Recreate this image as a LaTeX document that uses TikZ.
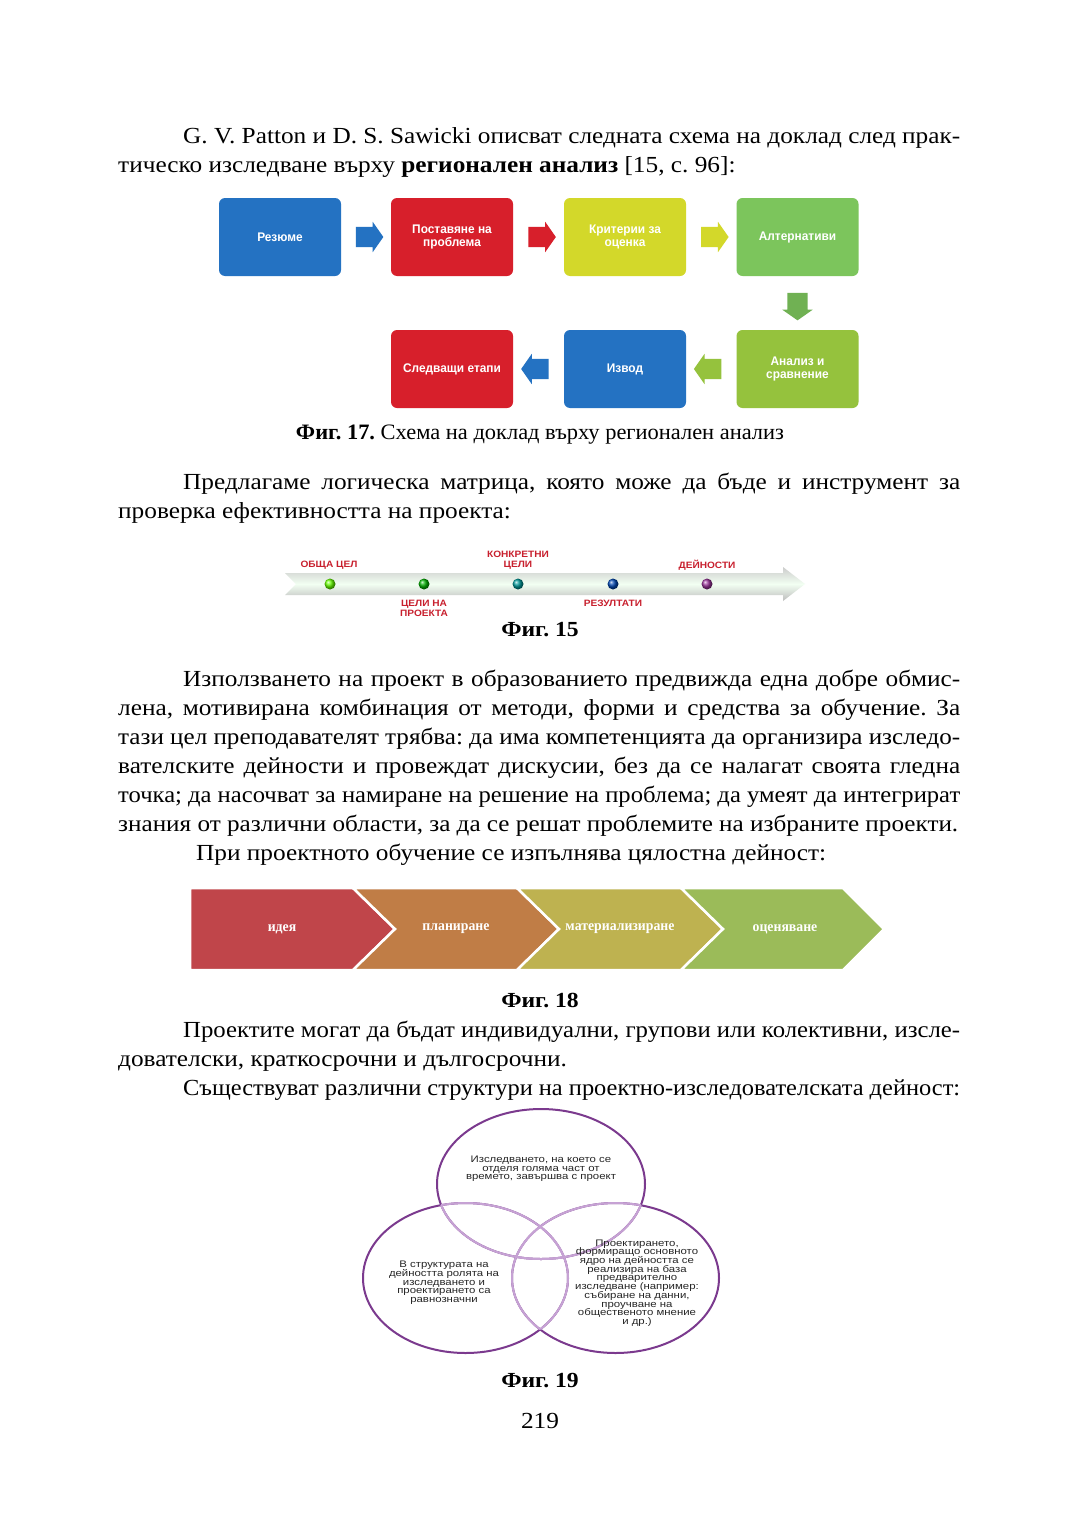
\documentclass[tikz,border=0pt]{standalone}
\usepackage{fontspec}
\usepackage{graphicx}
\setmainfont{Liberation Serif}
\newfontfamily\bodyfont[FakeStretch=1.1]{Liberation Serif}
\newfontfamily\capfont[FakeStretch=1.02]{Liberation Serif}
\newfontfamily\chfont[FakeStretch=0.95]{Liberation Serif}
\newfontfamily\boxfont[FakeStretch=0.95]{Liberation Sans}
\newfontfamily\lblfont[FakeStretch=1.1]{Liberation Sans}
\newfontfamily\vennfont[FakeStretch=1.2]{Liberation Sans}
\newcommand\vennsetup{\fontsize{9.5}{8.7}\vennfont\lineskiplimit=-6pt\relax}
\frenchspacing
\usetikzlibrary{shapes.arrows,calc}
\definecolor{cblue}{HTML}{2472C2}
\definecolor{cred}{HTML}{D71F2B}
\definecolor{cyel}{HTML}{D3D82A}
\definecolor{cgreen}{HTML}{7CC55C}
\definecolor{clime}{HTML}{95C23D}
\definecolor{lblred}{HTML}{C8202E}
\definecolor{ch1}{HTML}{C0454A}
\definecolor{ch2}{HTML}{C07D46}
\definecolor{ch3}{HTML}{BEB250}
\definecolor{ch4}{HTML}{9BBB59}
\definecolor{vdark}{HTML}{7B3A8E}
\definecolor{vlight}{HTML}{C6A2D4}
\newcommand\jline[2]{\setbox0\hbox{#2}\ifdim\wd0>#1pt\relax\resizebox{#1pt}{\height}{\box0}\else\makebox[#1pt][s]{\unhbox0}\fi}
\tikzset{
  txt/.style={anchor=base west, inner sep=0pt, font=\fontsize{23}{28}\bodyfont},
  figcap/.style={anchor=base, inner sep=0pt, font=\fontsize{21.5}{26}\bodyfont\bfseries},
  fbox/.style={rounded corners=6pt, minimum width=122pt, minimum height=78pt, inner sep=2pt, text=white, font=\fontsize{12.5}{13}\boxfont\bfseries, align=center},
  farrow/.style={single arrow, minimum height=27pt, inner sep=10pt, single arrow head extend=5pt, single arrow tip angle=110, draw=none},
  tlabel/.style={text=lblred, font=\fontsize{9.2}{10}\lblfont\bfseries, align=center, inner sep=0pt},
  tdot/.style={circle, minimum size=11pt, inner sep=0pt},
  chtext/.style={text=white, font=\fontsize{14.5}{15}\chfont\bfseries, inner sep=0pt},
  venntext/.style={font=\vennsetup, align=center, inner sep=0pt, text=black!85},
}
\begin{document}
\begin{tikzpicture}[x=1pt,y=-1pt]
\useasboundingbox[fill=white] (0,0) rectangle (1080,1536);

% paragraph 1
\node[txt] (p1a) at (183,143) {\jline{777}{G. V. Patton и D. S. Sawicki описват следната схема на доклад след прак-}};
\node[txt] (p1b) at (118,172) {тическо изследване върху \textbf{регионален анализ} [15, с. 96]:};

% figure 17
\node[fbox, fill=cblue] (b1) at (280,237) {Резюме};
\node[fbox, fill=cred] (b2) at (452,237) {Поставяне на\\проблема};
\node[fbox, fill=cyel] (b3) at (625,237) {Критерии за\\оценка};
\node[fbox, fill=cgreen] (b4) at (797.5,237) {Алтернативи};
\node[fbox, fill=clime] (b5) at (797.5,369) {Анализ и\\сравнение};
\node[fbox, fill=cblue] (b6) at (625,369) {Извод};
\node[fbox, fill=cred] (b7) at (452,369) {Следващи етапи};
\node[farrow, fill=cblue] (a1) at ($(b1.east)!0.5!(b2.west)$) {};
\node[farrow, fill=cred] (a2) at ($(b2.east)!0.5!(b3.west)$) {};
\node[farrow, fill=cyel] (a3) at ($(b3.east)!0.5!(b4.west)$) {};
\node[farrow, fill=cgreen!90!black, shape border rotate=270] (a4) at ($(b4.south)!0.5!(b5.north)$) {};
\node[farrow, fill=clime, shape border rotate=180] (a5) at ($(b5.west)!0.5!(b6.east)$) {};
\node[farrow, fill=cblue, shape border rotate=180] (a6) at ($(b6.west)!0.5!(b7.east)$) {};
\node[anchor=base, inner sep=0pt, font=\fontsize{22}{26}\capfont] (c17) at (540,439) {\textbf{Фиг. 17.} Схема на доклад върху регионален анализ};

% paragraph 2
\node[txt] (p2a) at (183,489) {\jline{777}{Предлагаме логическа матрица, която може да бъде и инструмент за}};
\node[txt] (p2b) at (118,518) {проверка ефективността на проекта:};

% figure 15
\shade[top color=black!20, bottom color=black!26, middle color=green!5!white]
  (285,573) -- (783,573) -- (783,567) -- (805,584) -- (783,601) -- (783,595) -- (285,595) -- (296,584) -- cycle;
\node[tdot, ball color=green!60!yellow] (d1) at (330,584) {};
\node[tdot, ball color=green!70!black] (d2) at (424,584) {};
\node[tdot, ball color=teal!80!cyan] (d3) at (518,584) {};
\node[tdot, ball color=blue!60!cyan!70!black] (d4) at (613,584) {};
\node[tdot, ball color=violet!80] (d5) at (707,584) {};
\node[tlabel] (l1) at (329,565) {ОБЩА ЦЕЛ};
\node[tlabel] (l2) at (424,608) {ЦЕЛИ НА\\ПРОЕКТА};
\node[tlabel] (l3) at (518,560) {КОНКРЕТНИ\\ЦЕЛИ};
\node[tlabel] (l4) at (613,603) {РЕЗУЛТАТИ};
\node[tlabel] (l5) at (707,565) {ДЕЙНОСТИ};
\node[figcap] (c15) at (540,636) {Фиг. 15};

% paragraph 3
\node[txt] (p3a) at (183,686) {\jline{777}{Използването на  проект в образованието  предвижда една добре обмис-}};
\node[txt] (p3b) at (118,715) {\jline{842}{лена, мотивирана комбинация от методи, форми и средства за обучение. За}};
\node[txt] (p3c) at (118,744) {\jline{842}{тази цел преподавателят трябва: да има компетенцията да организира изследо-}};
\node[txt] (p3d) at (118,773) {\jline{842}{вателските дейности и провеждат дискусии, без да се налагат своята гледна}};
\node[txt] (p3e) at (118,802) {\jline{842}{точка;  да  насочват за намиране на решение на проблема; да умеят да интегрират}};
\node[txt] (p3f) at (118,831) {\jline{840}{знания от различни области, за да се решат проблемите на избраните проекти.}};
\node[txt] (p3g) at (196,860) {При проектното обучение се изпълнява цялостна дейност:};

% figure 18
\begin{scope}[draw=white, line width=2.5pt, line join=miter]
\filldraw[fill=ch1] (190,888) -- (353,888) -- (395,929) -- (353,970) -- (190,970) -- cycle;
\filldraw[fill=ch2] (353,888) -- (517,888) -- (559,929) -- (517,970) -- (353,970) -- (395,929) -- cycle;
\filldraw[fill=ch3] (517,888) -- (681,888) -- (723,929) -- (681,970) -- (517,970) -- (559,929) -- cycle;
\filldraw[fill=ch4] (681,888) -- (843,888) -- (884,929) -- (843,970) -- (681,970) -- (723,929) -- cycle;
\end{scope}
\node[chtext] (t1) at (282,929) {идея};
\node[chtext] (t2) at (456,929) {планиране};
\node[chtext] (t3) at (620,929) {материализиране};
\node[chtext] (t4) at (785,929) {оценяване};
\node[figcap] (c18) at (540,1007) {Фиг. 18};

% paragraph 4
\node[txt] (p4a) at (183,1037) {\jline{777}{Проектите могат да бъдат индивидуални, групови или колективни, изсле-}};
\node[txt] (p4b) at (118,1066) {дователски, краткосрочни и дългосрочни.};
\node[txt] (p4c) at (183,1095) {\jline{777}{Съществуват различни структури на проектно-изследователската дейност:}};

% figure 19
\def\ea{(541,1184) ellipse [x radius=104, y radius=75]}
\def\eb{(465.5,1278) ellipse [x radius=102.5, y radius=75]}
\def\ec{(615.5,1278) ellipse [x radius=103.5, y radius=75]}
\draw[vdark, line width=2pt] \ea;
\draw[vdark, line width=2pt] \eb;
\draw[vdark, line width=2pt] \ec;
\begin{scope}
\clip \eb; \draw[vlight, line width=2pt] \ea; \draw[vlight, line width=2pt] \ec;
\end{scope}
\begin{scope}
\clip \ec; \draw[vlight, line width=2pt] \ea; \draw[vlight, line width=2pt] \eb;
\end{scope}
\begin{scope}
\clip \ea; \draw[vlight, line width=2pt] \eb; \draw[vlight, line width=2pt] \ec;
\end{scope}
\node[venntext] (v1) at (541,1169) {Изследването, на което се\\отделя голяма част от\\времето, завършва с проект};
\node[venntext] (v2) at (444,1283) {В структурата на\\дейността ролята на\\изследването и\\проектирането  са\\равнозначни};
\node[venntext] (v3) at (637,1283) {Проектирането,\\формиращо основното\\ядро на дейността се\\реализира на база\\предварително\\изследване (например:\\събиране на данни,\\проучване на\\общественото мнение\\и др.)};
\node[figcap] (c19) at (540,1387) {Фиг. 19};
\node[anchor=base, inner sep=0pt, font=\fontsize{23}{28}\bodyfont] (pg) at (540,1428) {219};
\end{tikzpicture}
\end{document}
